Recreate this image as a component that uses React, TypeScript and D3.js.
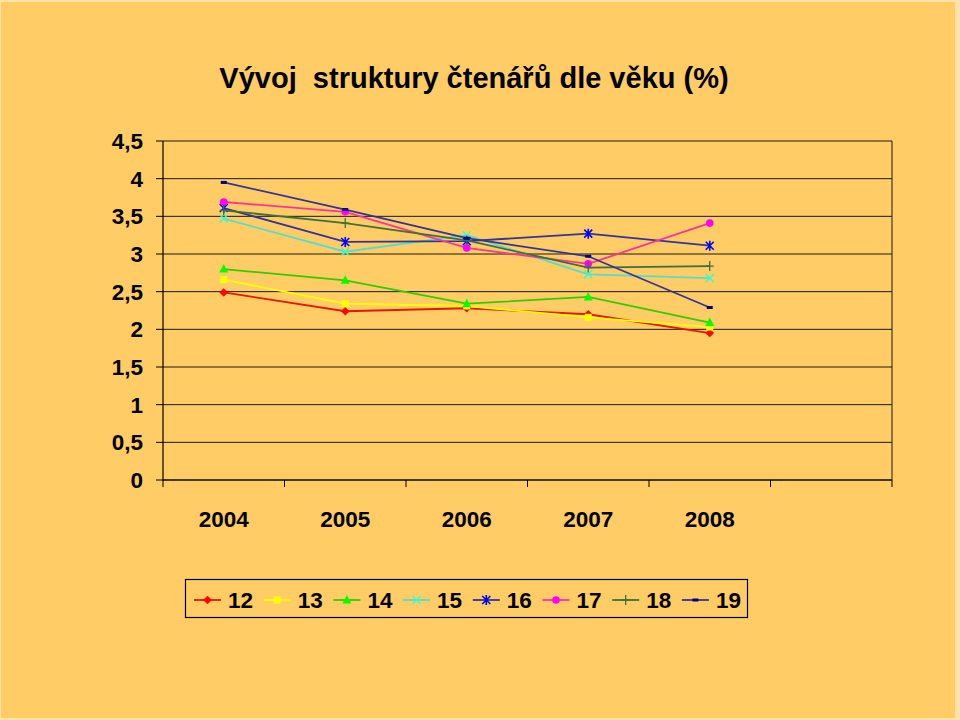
import React from "react";
import * as d3 from "d3";

const title = "Vývoj  struktury čtenářů dle věku (%)";
const categories = ["2004", "2005", "2006", "2007", "2008", ""];
const seriesNames = ["12", "13", "14", "15", "16", "17", "18", "19"];
const values12 = [2.49, 2.24, 2.28, 2.2, 1.95];
const values13 = [2.66, 2.34, 2.31, 2.16, 2.03];
const values14 = [2.8, 2.65, 2.34, 2.43, 2.09];
const values15 = [3.47, 3.03, 3.25, 2.73, 2.68];
const values16 = [3.61, 3.16, 3.17, 3.27, 3.11];
const values17 = [3.69, 3.56, 3.08, 2.87, 3.41];
const values18 = [3.58, 3.41, 3.18, 2.82, 2.84];
const values19 = [3.95, 3.59, 3.21, 2.97, 2.29];
const yTicks = [0, 0.5, 1, 1.5, 2, 2.5, 3, 3.5, 4, 4.5];

const seriesValues = [values12, values13, values14, values15, values16, values17, values18, values19];
const lineColors = ["#E81800", "#FFFF00", "#33CC00", "#55DDCC", "#333399", "#FF3399", "#3C7040", "#333399"];
const markerColors = ["#FF0000", "#FFFF00", "#00FF00", "#33FFCC", "#0000FF", "#FF00FF", "#3C7040", "#000080"];
const markerTypes = ["diamond", "square", "triangle", "x", "asterisk", "circle", "plus", "dash"];

const FONT = "'Liberation Sans', Arial, sans-serif";

function Marker({ type, x, y, color }: { type: string; x: number; y: number; color: string }) {
  const s = 4;
  switch (type) {
    case "diamond":
      return <path d={`M${x},${y - s}L${x + s},${y}L${x},${y + s}L${x - s},${y}Z`} fill={color} stroke={color} strokeWidth={0.5} />;
    case "square":
      return <rect x={x - 3.5} y={y - 3.5} width={7} height={7} fill={color} />;
    case "triangle":
      return <path d={`M${x},${y - 5}L${x + 4.5},${y + 3.5}L${x - 4.5},${y + 3.5}Z`} fill={color} />;
    case "x":
      return (
        <path d={`M${x - 4},${y - 4}L${x + 4},${y + 4}M${x - 4},${y + 4}L${x + 4},${y - 4}`} stroke={color} strokeWidth={1.5} />
      );
    case "asterisk":
      return (
        <path
          d={`M${x - 4},${y - 4}L${x + 4},${y + 4}M${x - 4},${y + 4}L${x + 4},${y - 4}M${x},${y - 5}L${x},${y + 5}`}
          stroke={color}
          strokeWidth={1.6}
        />
      );
    case "circle":
      return <circle cx={x} cy={y} r={3.8} fill={color} />;
    case "plus":
      return <path d={`M${x - 4},${y}L${x + 4},${y}M${x},${y - 5}L${x},${y + 5}`} stroke={color} strokeWidth={1.3} />;
    case "dash":
      return <rect x={x - 3} y={y - 1.5} width={6} height={3} fill={color} />;
    default:
      return null;
  }
}

export default function App() {
  const W = 960;
  const H = 720;
  const left = 163;
  const right = 892;
  const top = 141;
  const bottom = 480;

  const keys = categories.map((c, i) => i + ":" + c);
  const x = d3.scaleBand<string>().domain(keys).range([left, right]).paddingInner(0).paddingOuter(0);
  const cx = (i: number) => (x(keys[i]) as number) + x.bandwidth() / 2;
  const y = d3.scaleLinear().domain([0, 4.5]).range([bottom, top]);

  const line = d3
    .line<number>()
    .x((_, i) => cx(i))
    .y((d) => y(d));

  const legendLeft = 194;
  const legendStep = 69.7;
  const legendY = 600;

  return (
    <svg
      width={W}
      height={H}
      style={{ position: "absolute", left: 0, top: 0, display: "block" }}
      fontFamily={FONT}
    >
      <rect x={0} y={0} width={W} height={H} fill="#FFE3A8" />
      <rect x={1} y={2} width={954} height={716} fill="#FFCC66" />

      <text x={474} y={88} textAnchor="middle" fontSize={29} fontWeight="bold" style={{ whiteSpace: "pre" }}>
        {title}
      </text>

      {yTicks.map((t) => (
        <line key={"g" + t} x1={left} x2={right} y1={y(t)} y2={y(t)} stroke="#1a1a1a" strokeWidth={1} />
      ))}
      <line x1={right} x2={right} y1={top} y2={bottom} stroke="#1a1a1a" strokeWidth={1} />
      <line x1={left} x2={left} y1={top} y2={bottom + 0.5} stroke="#000" strokeWidth={1.2} />
      {yTicks.map((t) => (
        <g key={"t" + t}>
          <line x1={left - 7} x2={left} y1={y(t)} y2={y(t)} stroke="#000" strokeWidth={1} />
          <text x={143} y={y(t)} dy="0.36em" textAnchor="end" fontSize={22.5} fontWeight="bold">
            {String(t).replace(".", ",")}
          </text>
        </g>
      ))}
      <line x1={left} x2={right} y1={bottom} y2={bottom} stroke="#000" strokeWidth={1.2} />
      {keys.map((k) => (
        <line key={"xt" + k} x1={x(k) as number} x2={x(k) as number} y1={bottom} y2={bottom + 7} stroke="#000" strokeWidth={1} />
      ))}
      <line x1={right} x2={right} y1={bottom} y2={bottom + 7} stroke="#000" strokeWidth={1} />
      {categories.map((c, i) =>
        c ? (
          <text key={"xl" + c} x={cx(i)} y={527} textAnchor="middle" fontSize={22.5} fontWeight="bold">
            {c}
          </text>
        ) : null
      )}

      {seriesValues.map((vals, si) => (
        <g key={"s" + si}>
          <path d={line(vals) || ""} fill="none" stroke={lineColors[si]} strokeWidth={1.8} />
          {vals.map((v, i) => (
            <Marker key={i} type={markerTypes[si]} x={cx(i)} y={y(v)} color={markerColors[si]} />
          ))}
        </g>
      ))}

      <rect x={185.5} y={579.5} width={562} height={38} fill="none" stroke="#000" strokeWidth={1.2} />
      {seriesNames.map((n, si) => {
        const lx = legendLeft + si * legendStep;
        return (
          <g key={"lg" + n}>
            <line x1={lx} x2={lx + 27} y1={legendY} y2={legendY} stroke={lineColors[si]} strokeWidth={1.8} />
            <Marker type={markerTypes[si]} x={lx + 13.5} y={legendY} color={markerColors[si]} />
            <text x={lx + 34} y={legendY} dy="0.36em" fontSize={22.5} fontWeight="bold">
              {n}
            </text>
          </g>
        );
      })}
    </svg>
  );
}
